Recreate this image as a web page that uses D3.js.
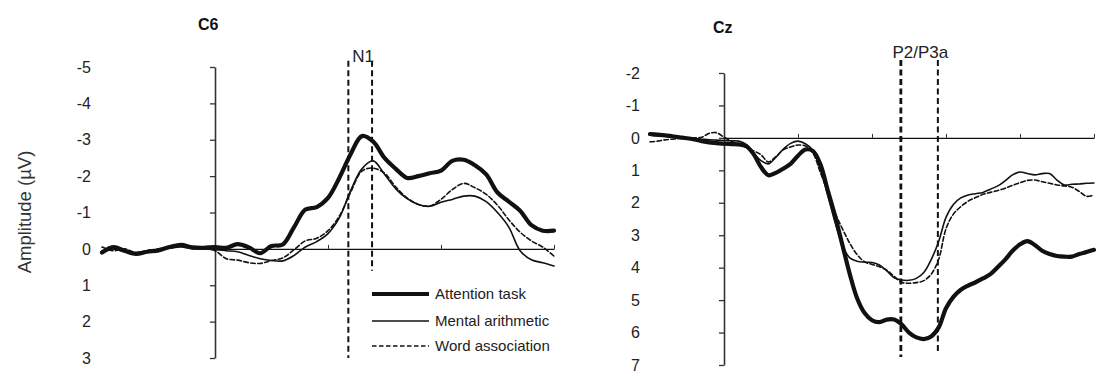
<!DOCTYPE html>
<html>
<head>
<meta charset="utf-8">
<script src="https://cdn.jsdelivr.net/npm/d3@7"></script>
<style>
  body { margin: 0; background: #fff; }
  svg { display: block; font-family: Arial, "Liberation Sans", sans-serif; }
</style>
</head>
<body>
<script>
// ---- data (time in ms, amplitude in µV) ----
var seriesNames = ["Attention task", "Mental arithmetic", "Word association"];

var c6Time = [-100, -90, -80, -70, -60, -50, -40, -30, -20, -10, 0, 10, 20, 30, 40, 50, 60, 70, 80, 90,
    100, 110, 120, 130, 140, 150, 160, 170, 180, 190, 200, 210, 220, 230, 240, 250, 260, 270, 280, 290, 300];
var c6Attention = [0.1, -0.05, 0.05, 0.14, 0.08, 0.04, -0.05, -0.11, -0.04, -0.03, -0.05, -0.03, -0.13, -0.04, 0.12, -0.08, -0.12, -0.6, -1.08, -1.15,
    -1.4, -1.95, -2.6, -3.1, -2.95, -2.5, -2.2, -1.95, -2.0, -2.08, -2.15, -2.42, -2.45, -2.3, -2.05, -1.55, -1.3, -1.05, -0.65, -0.5, -0.5];
var c6Mental = [0.05, 0.0, 0.08, 0.1, 0.05, 0.02, -0.02, -0.05, 0.0, 0.0, 0.02, 0.05, 0.08, 0.18, 0.27, 0.32, 0.33, 0.18, -0.05, -0.2,
    -0.42, -0.85, -1.6, -2.2, -2.42, -2.05, -1.65, -1.38, -1.22, -1.17, -1.28, -1.36, -1.45, -1.45, -1.3, -1.0, -0.6, 0.05, 0.3, 0.38, 0.47];
var c6Word = [-0.05, 0.05, 0.0, 0.1, 0.05, 0.0, -0.05, -0.08, -0.03, -0.02, 0.05, 0.27, 0.31, 0.38, 0.4, 0.32, 0.25, 0.02, -0.22, -0.29,
    -0.5, -0.9, -1.55, -2.14, -2.22, -2.08, -1.7, -1.4, -1.22, -1.18, -1.36, -1.63, -1.8, -1.68, -1.5, -1.2, -0.8, -0.46, -0.22, -0.05, 0.2];

var czTime = [-100, -90, -80, -70, -60, -50, -40, -30, -20, -10, 0, 10, 20, 30, 40, 50, 60, 70, 80, 90,
    100, 110, 120, 130, 140, 150, 160, 170, 180, 190, 200, 210, 220, 230, 240, 250, 260, 270, 280, 290,
    300, 310, 320, 330, 340, 350, 360, 370, 380, 390, 400, 410, 420, 430, 440, 450, 460, 470, 480, 490, 500];
var czAttention = [-0.12, -0.1, -0.08, -0.05, -0.02, 0.01, 0.05, 0.1, 0.14, 0.16, 0.18, 0.19, 0.2, 0.25, 0.5, 0.9, 1.15, 1.08, 0.95, 0.8,
    0.55, 0.36, 0.4, 0.8, 1.6, 2.4, 3.3, 4.2, 4.95, 5.4, 5.62, 5.68, 5.6, 5.6, 5.75, 6.0, 6.15, 6.2, 6.12, 5.85,
    5.25, 4.9, 4.68, 4.55, 4.45, 4.33, 4.2, 3.98, 3.75, 3.48, 3.28, 3.18, 3.3, 3.48, 3.58, 3.64, 3.66, 3.66, 3.58, 3.52, 3.45];
var czMental = [-0.08, -0.06, -0.05, -0.04, -0.02, 0.0, 0.02, 0.04, 0.06, 0.07, 0.08, 0.09, 0.1, 0.2, 0.47, 0.7, 0.8, 0.6, 0.35, 0.17,
    0.1, 0.18, 0.38, 0.95, 1.75, 2.6, 3.3, 3.7, 3.8, 3.83, 3.84, 3.92, 4.1, 4.31, 4.38, 4.39, 4.33, 4.15, 3.75, 3.2,
    2.45, 2.05, 1.85, 1.76, 1.72, 1.68, 1.58, 1.48, 1.32, 1.14, 1.05, 1.1, 1.14, 1.1, 1.1, 1.3, 1.45, 1.43, 1.42, 1.4, 1.39];
var czWord = [0.12, 0.1, 0.06, 0.04, 0.02, 0.01, 0.0, -0.02, -0.14, -0.16, -0.02, 0.1, 0.2, 0.3, 0.4, 0.52, 0.74, 0.58, 0.37, 0.28,
    0.22, 0.25, 0.46, 1.05, 1.65, 2.3, 2.8, 3.25, 3.6, 3.82, 3.9, 3.97, 4.08, 4.27, 4.45, 4.48, 4.46, 4.4, 4.2, 3.75,
    2.8, 2.35, 2.12, 1.95, 1.84, 1.74, 1.68, 1.62, 1.55, 1.46, 1.38, 1.31, 1.3, 1.35, 1.4, 1.45, 1.48, 1.52, 1.65, 1.8, 1.76];

var c6YTicks = [-5, -4, -3, -2, -1, 0, 1, 2, 3];
var czYTicks = [-2, -1, 0, 1, 2, 3, 4, 5, 6, 7];
var c6XTicks = [0, 100, 200, 300];
var czXTicks = [0, 100, 200, 300, 400, 500];
var c6Window = [118, 139];
var czWindow = [239, 289];

// ---- drawing ----
var svg = d3.select("body").append("svg").attr("width", 1110).attr("height", 376);

var styles = [
    {width: 4.2, dash: null},
    {width: 1.6, dash: null},
    {width: 1.6, dash: "4.5,2.5"}
];

function draw_panel(p) {
    var x = d3.scaleLinear().domain([-100, p.tMax]).range(p.xRange);
    var y = d3.scaleLinear().domain(p.yDomain).range(p.yRange);
    var g = svg.append("g");

    // y axis, tick labels pushed far to the left (plain hyphen minus like the original)
    var yAxis = g.append("g")
        .attr("transform", "translate(" + x(0) + ",0)")
        .call(d3.axisLeft(y).tickValues(p.yTicks).tickSize(5).tickSizeOuter(0)
            .tickFormat(function (d) { return String(d); }));
    yAxis.select(".domain").attr("stroke", "#333").attr("stroke-width", 1.6);
    yAxis.selectAll(".tick line").attr("stroke", "#333").attr("stroke-width", 1.3);
    yAxis.selectAll(".tick text")
        .attr("x", p.labelX - x(0))
        .attr("font-size", 16)
        .attr("fill", "#222")
        .attr("font-family", "Arial, 'Liberation Sans', sans-serif");

    // x axis at zero, small ticks pointing up
    var xs = x.copy().domain([0, p.tMax]).range([x(0), x(p.tMax)]);
    var xAxis = g.append("g")
        .attr("transform", "translate(0," + y(0) + ")")
        .call(d3.axisTop(xs).tickValues(p.xTicks).tickSize(4).tickSizeOuter(0).tickFormat(""));
    xAxis.select(".domain").attr("stroke", "#111").attr("stroke-width", 1.3);
    xAxis.selectAll(".tick line").attr("stroke", "#333");

    // component window
    g.selectAll(".win")
        .data(p.window)
        .enter().append("line")
        .attr("x1", function (d) { return x(d); })
        .attr("x2", function (d) { return x(d); })
        .attr("y1", y(p.winTop))
        .attr("y2", function (d, i) { return y(p.winBottom[i]); })
        .attr("stroke", "#111")
        .attr("stroke-width", function (d, i) { return p.winWidth[i]; })
        .attr("stroke-dasharray", "6,3.5");

    g.append("text")
        .attr("x", (x(p.window[0]) + x(p.window[1])) / 2 + p.labelShift)
        .attr("y", p.winLabelY)
        .attr("text-anchor", "middle")
        .attr("font-size", 17)
        .attr("fill", "#222")
        .text(p.winLabel);

    var line = d3.line()
        .x(function (d) { return x(d.t); })
        .y(function (d) { return y(d.v); })
        .curve(d3.curveCatmullRom.alpha(0.5));

    p.series.forEach(function (vals, i) {
        var pts = p.time.map(function (t, k) { return {t: t, v: vals[k]}; });
        g.append("path")
            .datum(pts)
            .attr("fill", "none")
            .attr("stroke", "#111")
            .attr("stroke-width", styles[i].width)
            .attr("stroke-linejoin", "round")
            .attr("stroke-linecap", "round")
            .attr("stroke-dasharray", styles[i].dash)
            .attr("d", line);
    });

    g.append("text")
        .attr("x", p.titleX)
        .attr("y", p.titleY)
        .attr("font-size", 16)
        .attr("font-weight", "bold")
        .attr("fill", "#111")
        .text(p.title);
}

draw_panel({
    title: "C6", titleX: 198, titleY: 30,
    time: c6Time, series: [c6Attention, c6Mental, c6Word],
    tMax: 300, xRange: [102, 554],
    yDomain: [-5, 3], yRange: [67, 358], yTicks: c6YTicks, xTicks: c6XTicks, labelX: 91,
    window: c6Window, winTop: -5.17, winBottom: [3.0, 0.6], winWidth: [2, 2],
    winLabel: "N1", winLabelY: 62, labelShift: 3
});

draw_panel({
    title: "Cz", titleX: 713, titleY: 33,
    time: czTime, series: [czAttention, czMental, czWord],
    tMax: 500, xRange: [650, 1094],
    yDomain: [-2, 7], yRange: [73, 365], yTicks: czYTicks, xTicks: czXTicks, labelX: 640,
    window: czWindow, winTop: -2.4, winBottom: [6.75, 6.68], winWidth: [2.8, 2],
    winLabel: "P2/P3a", winLabelY: 58, labelShift: 1
});

// y label
svg.append("text")
    .attr("transform", "translate(31,212) rotate(-90)")
    .attr("text-anchor", "middle")
    .attr("font-size", 18.5)
    .attr("fill", "#333")
    .text("Amplitude (\u00b5V)");

// legend
var legend = svg.append("g").attr("transform", "translate(372,294)");
var rows = legend.selectAll(".lg")
    .data(seriesNames)
    .enter().append("g")
    .attr("class", "lg")
    .attr("transform", function (d, i) { return "translate(0," + [0, 27, 52][i] + ")"; });
rows.append("line")
    .attr("x1", 0).attr("x2", 57)
    .attr("stroke", "#111")
    .attr("stroke-width", function (d, i) { return styles[i].width; })
    .attr("stroke-dasharray", function (d, i) { return styles[i].dash; });
rows.append("text")
    .attr("x", 63)
    .attr("dy", "0.35em")
    .attr("font-size", 15)
    .attr("fill", "#222")
    .text(function (d) { return d; });
</script>
</body>
</html>
